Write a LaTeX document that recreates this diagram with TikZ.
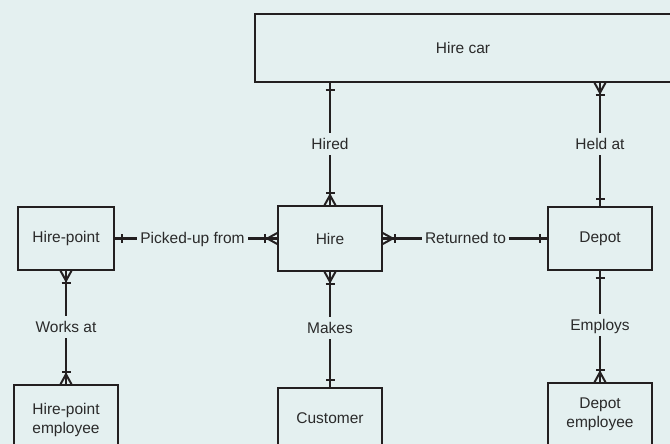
\documentclass[tikz,border=0pt]{standalone}
\usepackage{fontspec}
\setmainfont{Liberation Sans}
\definecolor{bg}{HTML}{E4F0F0}
\definecolor{ln}{HTML}{231F20}
\definecolor{tx}{HTML}{2A2A2A}
\begin{document}
\begin{tikzpicture}[x=1pt,y=1pt,
  ent/.style={draw=ln, line width=1.5pt, text=tx, font=\fontsize{15.5}{19}\selectfont, align=center, inner sep=0pt},
  lbl/.style={text=tx, font=\fontsize{15.5}{19}\selectfont, text height=11pt, text depth=0pt, inner xsep=2.5pt, inner ysep=5.5pt},
  conn/.style={draw=ln, line width=2.6pt},
  crow/.pic={\draw[ln, line width=2pt] (0,5.5) -- (10,0) -- (0,-5.5);
             \draw[ln, line width=2.4pt] (0,0) -- (10,0) (12,-4.5) -- (12,4.5);},
  single/.pic={\draw[ln, line width=2.4pt] (7,-4.5) -- (7,4.5);}
]
\useasboundingbox (0,0) rectangle (670,444);
\fill[bg] (0,0) rectangle (670,444);

% entities
\node[ent, minimum width=416, minimum height=68] (hirecar) at (463,396) {Hire car};
\node[ent, minimum width=96, minimum height=63] (hirepoint) at (66,205.5) {Hire-point};
\node[ent, minimum width=104, minimum height=65] (hire) at (330,205.5) {Hire};
\node[ent, minimum width=104, minimum height=63] (depot) at (600,205.5) {Depot};
\node[ent, minimum width=104, minimum height=70] (hpemp) at (66,24) {Hire-point\\employee};
\node[ent, minimum width=104, minimum height=60] (cust) at (330,26) {Customer};
\node[ent, minimum width=104, minimum height=62] (depemp) at (600,30) {Depot\\employee};

% labels
\node[lbl] (lhired) at (330,300) {Hired};
\node[lbl] (lheld) at (600,300) {Held at};
\node[lbl, inner xsep=3.5pt] (lpick) at (192.5,205.5) {Picked-up from};
\node[lbl] (lret) at (465.5,205.5) {Returned to};
\node[lbl] (lworks) at (66,117) {Works at};
\node[lbl] (lmakes) at (330,116) {Makes};
\node[lbl] (lemploys) at (600,119) {Employs};

% connectors
\coordinate (hcA) at (hirecar.south -| hire.north);
\coordinate (hcB) at (hirecar.south -| depot.north);
\draw[conn] (hcA) -- (lhired);
\draw[conn] (lhired) -- (hire.north);
\draw[conn] (hcB) -- (lheld);
\draw[conn] (lheld) -- (depot.north);
\draw[conn] (hirepoint.east) -- (lpick);
\draw[conn] (lpick) -- (hire.west);
\draw[conn] (hire.east) -- (lret);
\draw[conn] (lret) -- (depot.west);
\draw[conn] (hirepoint.south) -- (lworks);
\draw[conn] (lworks) -- (hpemp.north);
\draw[conn] (hire.south) -- (lmakes);
\draw[conn] (lmakes) -- (cust.north);
\draw[conn] (depot.south) -- (lemploys);
\draw[conn] (lemploys) -- (depemp.north);

% cardinality marks
\pic[rotate=-90] at (hcA) {single};
\pic[rotate=90] at (hire.north) {crow};
\pic[rotate=-90] at (hcB) {crow};
\pic[rotate=90] at (depot.north) {single};
\pic at (hirepoint.east) {single};
\pic[rotate=180] at (hire.west) {crow};
\pic at (hire.east) {crow};
\pic[rotate=180] at (depot.west) {single};
\pic[rotate=-90] at (hirepoint.south) {crow};
\pic[rotate=90] at (hpemp.north) {crow};
\pic[rotate=-90] at (hire.south) {crow};
\pic[rotate=90] at (cust.north) {single};
\pic[rotate=-90] at (depot.south) {single};
\pic[rotate=90] at (depemp.north) {crow};
\end{tikzpicture}
\end{document}
